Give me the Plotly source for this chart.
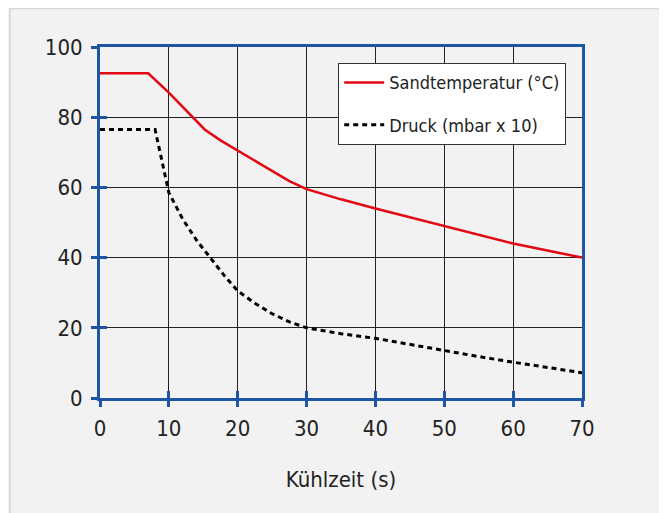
import plotly.graph_objects as go

# Data
temp_x = [0, 7, 10, 13.4, 15.2, 17.5, 20, 22.5, 25, 27.5, 30, 35, 40, 50, 60, 70]
temp_y = [92.5, 92.5, 87, 80, 76.5, 73.4, 70.5, 67.4, 64.5, 61.8, 59.5, 56.6, 54, 49, 44, 40]
press_x = [0, 8, 10, 12, 14, 16, 18, 20, 22.5, 25, 27.5, 30, 35, 40, 45, 50, 55, 60, 65, 70]
press_y = [76.5, 76.5, 58.5, 51, 45, 40, 35, 30.5, 27, 24, 21.7, 20, 18.3, 17, 15.2, 13.5, 11.8, 10.2, 8.6, 7.2]
x_ticks = [0, 10, 20, 30, 40, 50, 60, 70]
y_ticks = [0, 20, 40, 60, 80, 100]
series_names = ["Sandtemperatur (°C)", "Druck (mbar x 10)"]
x_title = "Kühlzeit (s)"

FONT = "Liberation Sans Narrow, DejaVu Sans Condensed, Arial Narrow, sans-serif"
BLUE = "#1f55a5"
TXT = "#222222"

# page body has an 8px margin; work in screen pixels and convert
OFF = 8
W, H = 667, 513
SX0, SX1, SY0, SY1 = 100, 582, 47, 398  # plot area in screen pixels
L, R = SX0 - OFF, W - (SX1 - OFF)
T, B = SY0 - OFF, H - (SY1 - OFF)
pw, ph = W - L - R, H - T - B

def px2paper_x(sx):
    return (sx - OFF - L) / pw

def px2paper_y(sy):
    return (H - B - (sy - OFF)) / ph

fig = go.Figure()
fig.add_trace(go.Scatter(x=temp_x, y=temp_y, mode="lines", name=series_names[0], legendgroup="a",
                         line=dict(color="#e30613", width=2.5)))
fig.add_trace(go.Scatter(x=press_x, y=press_y, mode="lines", name=series_names[1], legendgroup="b",
                         line=dict(color="#000000", width=3, dash="5px,4px")))
# overlay axes for inward tick halves
fig.add_trace(go.Scatter(x=[None], y=[None], xaxis="x2", yaxis="y2", showlegend=False))

axis_common = dict(showline=True, linecolor=BLUE, linewidth=3, mirror=True, automargin=False,
                   showgrid=True, gridcolor="#222222", gridwidth=1.3,
                   ticks="outside", ticklen=6, tickwidth=2.5, tickcolor=BLUE,
                   zeroline=False, tickfont=dict(family=FONT, size=22, color=TXT))

overlay_common = dict(showgrid=False, showline=False, automargin=False,
                      ticks="inside", ticklen=7, tickwidth=2.5, tickcolor=BLUE,
                      showticklabels=False, zeroline=False)

fig.update_layout(
    width=W, height=H,
    margin=dict(l=L, r=R, t=T, b=B, autoexpand=False),
    paper_bgcolor="#f2f2f2",
    plot_bgcolor="white",
    font=dict(family=FONT, color=TXT),
    xaxis=dict(range=[0, 70], tickvals=x_ticks, ticklabelstandoff=3,
               title=dict(text=x_title, font=dict(family=FONT, size=22, color=TXT), standoff=32),
               **axis_common),
    yaxis=dict(range=[0, 100], tickvals=y_ticks, ticklabelstandoff=4, **axis_common),
    xaxis2=dict(range=[0, 70], tickvals=x_ticks, overlaying="x", **overlay_common),
    yaxis2=dict(range=[0, 100], tickvals=y_ticks, overlaying="y", **overlay_common),
    legend=dict(x=px2paper_x(338), y=px2paper_y(63), xanchor="left", yanchor="top",
                bgcolor="white", bordercolor="#333333", borderwidth=1.2,
                font=dict(family=FONT, size=18, color=TXT),
                itemwidth=40, tracegroupgap=16, entrywidth=180, entrywidthmode="pixels"),
    shapes=[dict(type="rect", xref="paper", yref="paper", layer="below",
                 x0=px2paper_x(10), x1=px2paper_x(700), y0=px2paper_y(560), y1=px2paper_y(OFF + 0.5),
                 fillcolor="#f2f2f2", line=dict(color="#d6d6d6", width=1.5))],
)

fig.write_html("out.html")
